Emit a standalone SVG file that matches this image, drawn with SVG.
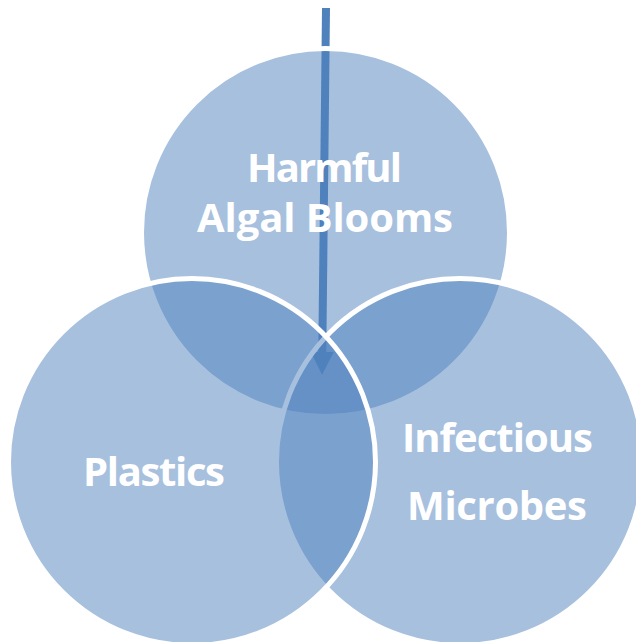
<svg xmlns="http://www.w3.org/2000/svg" width="636" height="642" viewBox="0 0 636 642">
<style>
.c{fill:#4F81BD;fill-opacity:0.5;stroke:#FFFFFF;stroke-width:5}
.t{font-family:"Open Sans","Liberation Sans",sans-serif;font-weight:bold;font-size:40px;fill:#FFFFFF;text-anchor:middle}
.a{stroke:#4F81BD;stroke-width:8;fill:none}
</style>
<defs>
<marker id="ah" markerUnits="userSpaceOnUse" markerWidth="23" markerHeight="23" refX="0" refY="11.5" orient="auto" viewBox="0 0 23 23">
<path d="M0,0 L23,11.5 L0,23 Z" fill="#4F81BD"/>
</marker>
</defs>
<g id="connectors">
<line class="a" x1="326" y1="8" x2="322.3" y2="352" marker-end="url(#ah)"/>
</g>
<g id="node-harmful-algal-blooms">
<circle class="c" cx="325.5" cy="232.5" r="184"/>
<text class="t" x="324.5" y="182" textLength="155">Harmful</text>
<text class="t" x="325" y="232" textLength="256">Algal Blooms</text>
</g>
<g id="node-infectious-microbes">
<circle class="c" cx="460" cy="462" r="183.5"/>
<text class="t" x="497.5" y="452" textLength="191">Infectious</text>
<text class="t" x="497" y="520" textLength="180">Microbes</text>
</g>
<g id="node-plastics">
<circle class="c" cx="192" cy="462" r="183.5"/>
<text class="t" x="154" y="486" textLength="142">Plastics</text>
</g>
</svg>
